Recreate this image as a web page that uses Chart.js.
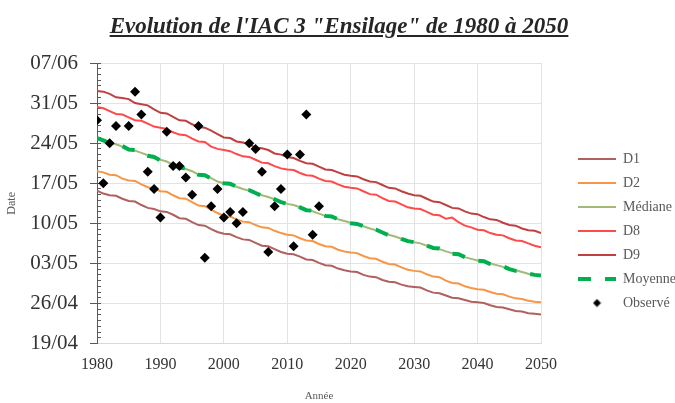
<!DOCTYPE html>
<html>
<head>
<meta charset="utf-8">
<script src="https://cdn.jsdelivr.net/npm/chart.js@4.4.1/dist/chart.umd.min.js"></script>
<style>
  html, body { margin: 0; padding: 0; background: #fff; }
  #wrap { position: relative; width: 675px; height: 403px; }
  #titre { position: absolute; top: 13px; left: 0; width: 678px; text-align: center;
           font: italic bold 23px "Liberation Serif", "Times New Roman", serif;
           text-decoration: underline; color: #262626; }
  canvas { position: absolute; left: 0; top: 0; }
</style>
</head>
<body>
<div id="wrap">
  <canvas id="iacChart" width="675" height="403"></canvas>
  <div id="titre">Evolution de l'IAC 3 "Ensilage" de 1980 à 2050</div>
</div>
<script>
// annees simulees (axe x)
const years = [
  1980, 1981, 1982, 1983, 1984, 1985, 1986, 1987, 1988, 1989,
  1990, 1991, 1992, 1993, 1994, 1995, 1996, 1997, 1998, 1999,
  2000, 2001, 2002, 2003, 2004, 2005, 2006, 2007, 2008, 2009,
  2010, 2011, 2012, 2013, 2014, 2015, 2016, 2017, 2018, 2019,
  2020, 2021, 2022, 2023, 2024, 2025, 2026, 2027, 2028, 2029,
  2030, 2031, 2032, 2033, 2034, 2035, 2036, 2037, 2038, 2039,
  2040, 2041, 2042, 2043, 2044, 2045, 2046, 2047, 2048, 2049, 2050
];

// valeurs en jour de l'annee (109 = 19/04)
const d1 = [
  135.7, 135.2, 134.9, 134.8, 134.3, 133.9, 133.8, 133.2, 132.7, 132.5,
  132.1, 132.0, 131.5, 130.9, 130.8, 130.2, 129.7, 129.6, 129.0, 128.5,
  128.2, 128.1, 127.6, 127.2, 127.1, 126.6, 126.1, 126.0, 125.5, 125.0,
  124.7, 124.6, 124.2, 123.7, 123.6, 123.1, 122.7, 122.6, 122.1, 121.8,
  121.6, 121.5, 121.0, 120.7, 120.6, 120.1, 119.8, 119.7, 119.3, 119.0,
  118.9, 118.8, 118.3, 117.9, 117.8, 117.4, 117.0, 116.9, 116.6, 116.3,
  116.2, 116.1, 115.7, 115.4, 115.3, 115.0, 114.7, 114.6, 114.3, 114.2, 114.1
];
const d2 = [
  139.1, 138.9, 138.5, 138.4, 137.8, 137.5, 137.4, 136.8, 136.3, 136.1,
  135.6, 135.5, 134.9, 134.4, 134.3, 133.7, 133.1, 133.0, 132.4, 131.8,
  131.3, 131.2, 130.7, 130.3, 130.2, 129.7, 129.3, 129.2, 128.7, 128.3,
  128.0, 127.9, 127.4, 127.0, 126.9, 126.4, 126.0, 125.9, 125.4, 125.1,
  124.9, 124.8, 124.3, 123.9, 123.8, 123.3, 122.9, 122.8, 122.3, 121.9,
  121.7, 121.6, 121.1, 120.7, 120.6, 120.0, 119.6, 119.5, 119.0, 118.7,
  118.5, 118.4, 118.0, 117.7, 117.6, 117.2, 116.9, 116.8, 116.5, 116.3, 116.2
];
const mediane = [
  144.8, 144.5, 144.1, 143.8, 143.4, 143.0, 142.7, 142.3, 141.9, 141.5,
  141.1, 140.8, 140.2, 139.8, 139.5, 139.1, 138.5, 138.3, 137.9, 137.3,
  137.0, 136.8, 136.4, 136.0, 135.7, 135.3, 134.9, 134.6, 134.2, 133.8,
  133.4, 133.2, 132.8, 132.4, 132.1, 131.7, 131.3, 131.1, 130.7, 130.4,
  130.1, 129.9, 129.5, 129.1, 128.8, 128.4, 128.0, 127.7, 127.3, 127.0,
  126.7, 126.5, 126.1, 125.8, 125.5, 125.1, 124.8, 124.5, 124.1, 123.8,
  123.5, 123.3, 123.0, 122.7, 122.4, 122.0, 121.8, 121.5, 121.2, 121.0, 120.8
];
const d8 = [
  150.3, 150.1, 149.6, 149.1, 149.0, 148.5, 148.0, 147.9, 147.4, 146.9,
  146.7, 146.5, 145.9, 145.5, 145.4, 144.8, 144.3, 144.2, 143.4, 143.0,
  142.8, 142.6, 142.1, 141.7, 141.6, 141.1, 140.6, 140.5, 140.0, 139.6,
  139.4, 139.3, 138.8, 138.4, 138.3, 137.8, 137.4, 137.3, 136.8, 136.4,
  136.2, 136.1, 135.6, 135.1, 135.0, 134.4, 133.9, 133.8, 133.3, 132.8,
  132.6, 132.5, 132.0, 131.5, 131.4, 130.8, 131.0, 130.2, 129.6, 129.3,
  128.9, 128.8, 128.3, 128.0, 127.9, 127.4, 127.0, 126.9, 126.5, 126.1, 125.8
];
const d9 = [
  153.1, 153.0, 152.6, 152.0, 151.9, 151.7, 151.0, 150.8, 150.6, 149.9,
  149.3, 149.2, 148.6, 148.0, 147.9, 147.3, 146.8, 146.7, 146.2, 145.6,
  145.0, 144.9, 144.3, 144.1, 143.8, 143.2, 143.1, 142.8, 142.2, 142.0,
  141.6, 141.4, 140.9, 140.5, 140.4, 139.9, 139.4, 139.3, 138.9, 138.5,
  138.3, 138.2, 137.7, 137.3, 137.2, 136.7, 136.2, 136.1, 135.6, 135.2,
  134.9, 134.8, 134.3, 133.8, 133.7, 133.2, 132.7, 132.6, 132.1, 131.7,
  131.6, 131.1, 130.7, 130.6, 130.1, 129.7, 129.6, 129.1, 128.8, 128.7, 128.3
];
const moyenne = [
  144.9, 144.5, 144.0, 143.9, 143.5, 142.9, 142.8, 142.3, 141.8, 141.6,
  141.0, 140.8, 140.3, 139.7, 139.6, 139.0, 138.5, 138.4, 137.8, 137.3,
  137.0, 136.9, 136.4, 135.9, 135.8, 135.3, 134.8, 134.7, 134.2, 133.7,
  133.4, 133.3, 132.8, 132.3, 132.2, 131.7, 131.3, 131.2, 130.7, 130.3,
  130.0, 129.9, 129.5, 129.0, 128.9, 128.4, 127.9, 127.8, 127.3, 126.9,
  126.7, 126.6, 126.1, 125.7, 125.6, 125.1, 124.7, 124.6, 124.1, 123.7,
  123.5, 123.4, 122.9, 122.6, 122.5, 122.0, 121.7, 121.6, 121.2, 121.0, 120.9
];

// observations
const obsYears = [
  1980, 1981, 1982, 1983, 1985, 1986, 1987, 1988, 1989, 1990,
  1991, 1992, 1993, 1994, 1995, 1996, 1997, 1998, 1999, 2000,
  2001, 2002, 2003, 2004, 2005, 2006, 2007, 2008, 2009, 2010,
  2011, 2012, 2013, 2014, 2015
];
const observe = [
  148, 137, 144, 147, 147, 153, 149, 139, 136, 131,
  146, 140, 140, 138, 135, 147, 124, 133, 136, 131,
  132, 130, 132, 144, 143, 139, 125, 133, 136, 142,
  126, 142, 149, 128, 133
];

// graduations
const xTicks = [1980, 1990, 2000, 2010, 2020, 2030, 2040, 2050];
const yTickDays = [109, 116, 123, 130, 137, 144, 151, 158];
const yTickLabels = ['19/04', '26/04', '03/05', '10/05', '17/05', '24/05', '31/05', '07/06'];

function serie(xs, vals) {
  return vals.map((v, i) => ({ x: xs[i], y: v }));
}

function ligne(label, vals, couleur, extra) {
  return Object.assign({
    label: label,
    data: serie(years, vals),
    borderColor: couleur,
    backgroundColor: couleur,
    borderWidth: 2,
    pointRadius: 0,
    pointHoverRadius: 0,
    pointStyle: 'line',
    tension: 0,
    fill: false,
    yAxisID: 'y'
  }, extra || {});
}

// petit losange pour la legende "Observé"
const losange = document.createElement('canvas');
losange.width = 9; losange.height = 9;
(function () {
  const c = losange.getContext('2d');
  c.fillStyle = '#000';
  c.beginPath();
  c.moveTo(4.5, 0.5); c.lineTo(8.5, 4.5); c.lineTo(4.5, 8.5); c.lineTo(0.5, 4.5);
  c.closePath(); c.fill();
})();

// decale la legende vers la droite (comme dans Excel)
const decalerLegende = {
  id: 'decalerLegende',
  afterLayout(chart) {
    chart.legend.left += 27;
    chart.legend.right += 27;
    chart.legend.top -= 2;
    chart.legend.bottom -= 2;
  }
};

const police = 'Liberation Serif';

new Chart(document.getElementById('iacChart'), {
  type: 'line',
  data: {
    datasets: [
      ligne('D1', d1, '#B0605F'),
      ligne('D2', d2, '#F79646'),
      ligne('Médiane', mediane, '#A4B877'),
      ligne('D8', d8, '#FF4A4A'),
      ligne('D9', d9, '#C0403F'),
      ligne('Moyenne', moyenne, '#00B050', { borderWidth: 4, borderDash: [13, 14], order: -1 }),
      {
        label: 'Observé',
        data: serie(obsYears, observe),
        showLine: false,
        pointStyle: 'rectRot',
        pointRadius: 5,
        pointHoverRadius: 5,
        borderColor: '#000',
        backgroundColor: '#000',
        borderWidth: 0,
        yAxisID: 'y',
        order: -2
      }
    ]
  },
  options: {
    responsive: false,
    animation: false,
    layout: { padding: { top: 63, left: 0, right: 0, bottom: 0 } },
    plugins: {
      tooltip: { enabled: false },
      title: { display: false },
      legend: {
        position: 'right',
        labels: {
          usePointStyle: true,
          pointStyleWidth: 38,
          padding: 10,
          color: '#595959',
          font: { family: police, size: 14 },
          generateLabels(chart) {
            const items = Chart.defaults.plugins.legend.labels.generateLabels(chart);
            items.sort((a, b) => a.datasetIndex - b.datasetIndex);
            items.forEach(it => {
              const ds = chart.data.datasets[it.datasetIndex];
              if (ds.borderDash) it.lineDash = ds.borderDash;
              if (it.text === 'Observé') it.pointStyle = losange;
            });
            return items;
          }
        }
      }
    },
    scales: {
      x: {
        type: 'linear',
        min: 1980,
        max: 2050,
        afterBuildTicks: axis => { axis.ticks = xTicks.map(v => ({ value: v })); },
        afterFit: axis => { axis.paddingRight = 134; },
        ticks: {
          padding: 12,
          color: '#333',
          font: { family: police, size: 16 },
          callback: v => String(v)
        },
        grid: { color: '#E3E3E3', drawTicks: false },
        border: { color: '#D9D9D9' },
        title: {
          display: true,
          text: 'Année',
          color: '#595959',
          font: { family: police, size: 11 },
          padding: { top: 3, bottom: 0 }
        }
      },
      y: {
        type: 'linear',
        min: 109,
        max: 158,
        afterBuildTicks: axis => { axis.ticks = yTickDays.map(v => ({ value: v })); },
        afterFit: axis => { axis.width = 97; },
        ticks: {
          padding: 12,
          color: '#333',
          font: { family: police, size: 21 },
          callback: (v) => yTickLabels[yTickDays.indexOf(v)]
        },
        grid: { color: '#E3E3E3', tickColor: '#595959', tickLength: 7 },
        border: { color: '#595959' },
        title: {
          display: true,
          text: 'Date',
          color: '#595959',
          font: { family: police, size: 12 },
          padding: { top: 5, bottom: 0 }
        }
      },
      // petites graduations journalieres
      yMin: {
        type: 'linear',
        min: 109,
        max: 158,
        position: { x: 1980 },
        afterBuildTicks: axis => {
          const t = [];
          for (let d = 109; d <= 158; d++) t.push({ value: d });
          axis.ticks = t;
        },
        ticks: { display: false },
        grid: { drawOnChartArea: false, tickLength: -4, tickColor: '#595959' },
        border: { display: false }
      }
    }
  },
  plugins: [decalerLegende]
});
</script>
</body>
</html>
